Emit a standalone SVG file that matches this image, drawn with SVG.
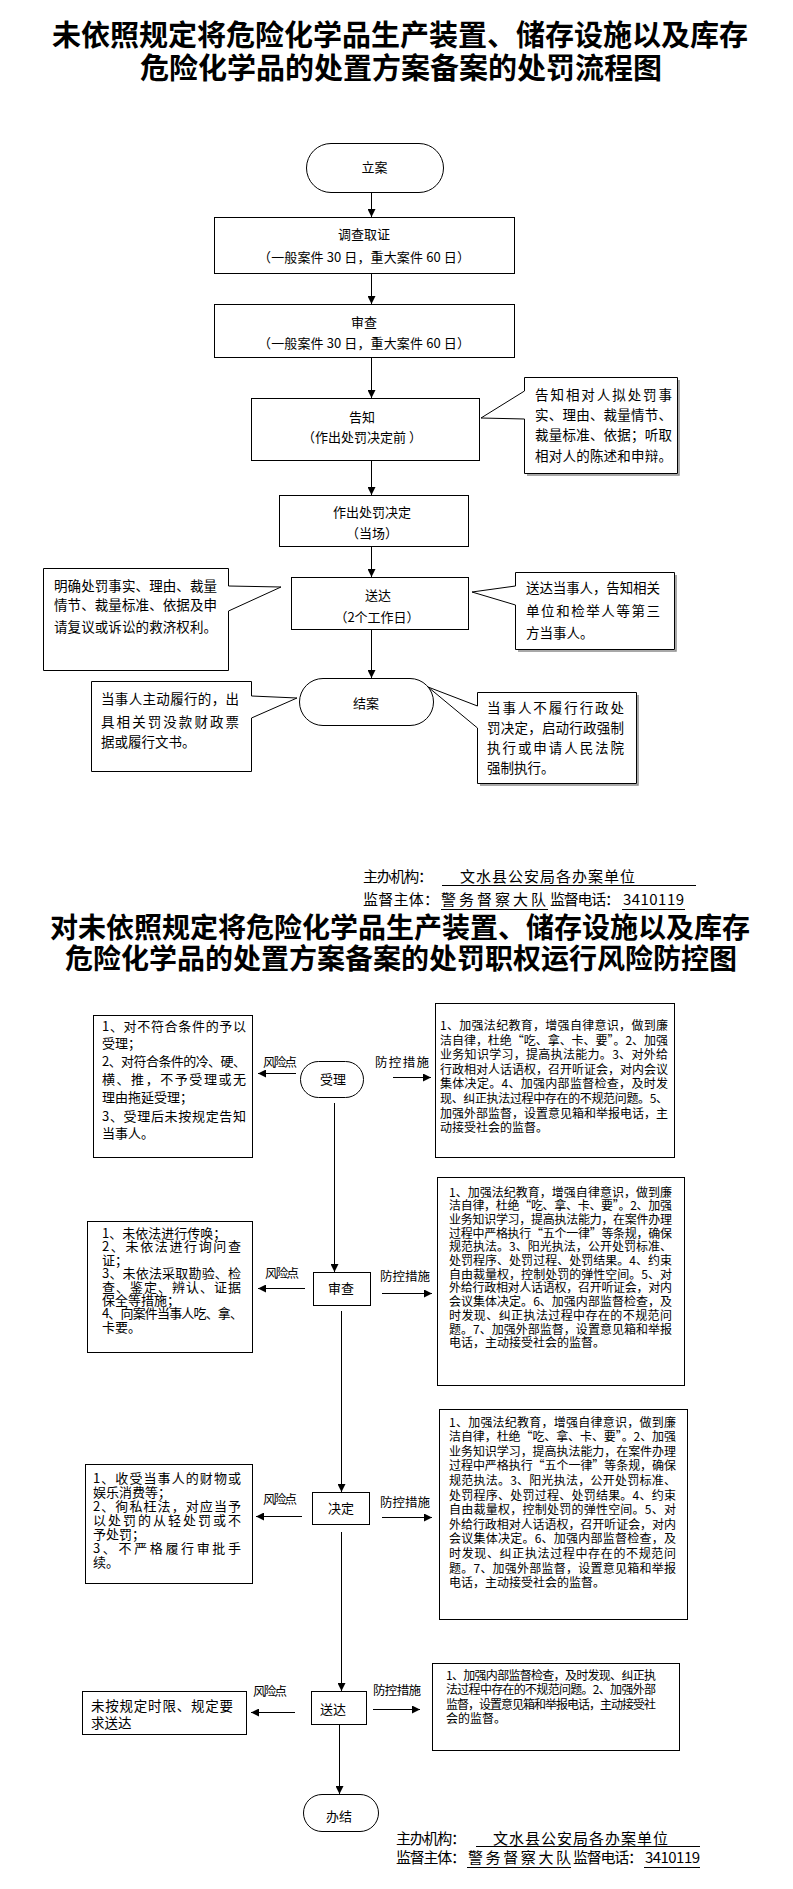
<svg xmlns="http://www.w3.org/2000/svg" width="793" height="1889" viewBox="0 0 793 1889">
<style>
text{font-family:"Noto Sans CJK SC","Liberation Sans",sans-serif;fill:#000}
.title{font-size:29px;font-weight:700;text-anchor:middle}
.title2{font-size:28px;font-weight:700;text-anchor:middle}
.n{font-size:13px;text-anchor:middle}
.c{font-size:13.5px}
.s{font-size:12px}
.l{font-size:13px}
.lbl{font-size:12.5px;text-anchor:middle}
.ft{font-size:15px}
.box{fill:#fff;stroke:#000;stroke-width:1}
.ln{fill:none;stroke:#000;stroke-width:1}
.ul{stroke:#000;stroke-width:1}
.sh{fill:none;stroke:#8c8c8c;stroke-width:1.5}
</style>
<defs>
<marker id="ah" markerWidth="8" markerHeight="8" refX="8" refY="4" orient="auto" markerUnits="userSpaceOnUse">
<path d="M0,0 L8,4 L0,8 Z" fill="#000"/>
</marker>
</defs>
<rect width="793" height="1889" fill="#fff"/>

<g id="title1">
<text class="title" x="400" y="46">未依照规定将危险化学品生产装置、储存设施以及库存</text>
<text class="title" x="401" y="79">危险化学品的处置方案备案的处罚流程图</text>
</g>

<g id="connectors1">
<path class="ln" d="M371.5,192 V217" marker-end="url(#ah)"/>
<path class="ln" d="M371.5,273 V304" marker-end="url(#ah)"/>
<path class="ln" d="M371.5,357 V398" marker-end="url(#ah)"/>
<path class="ln" d="M371.5,460 V495" marker-end="url(#ah)"/>
<path class="ln" d="M371.5,546 V577" marker-end="url(#ah)"/>
<path class="ln" d="M371.5,629 V678" marker-end="url(#ah)"/>
</g>

<g id="n-lian">
<rect class="box" x="306.5" y="143.5" width="137" height="49" rx="24.5"/>
<text class="n" x="374.5" y="172">立案</text>
</g>
<g id="n-diaocha">
<rect class="box" x="214.5" y="217.5" width="300" height="56"/>
<text class="n" x="364" y="239" font-size="13.5">调查取证</text>
<text class="n" x="364" y="262" textLength="212" lengthAdjust="spacing">（一般案件 30 日，重大案件 60 日）</text>
</g>
<g id="n-shencha">
<rect class="box" x="214.5" y="304.5" width="300" height="53"/>
<text class="n" x="364" y="327" font-size="13.5">审查</text>
<text class="n" x="364" y="348" textLength="212" lengthAdjust="spacing">（一般案件 30 日，重大案件 60 日）</text>
</g>
<g id="n-gaozhi">
<rect class="box" x="251.5" y="398.5" width="228" height="62"/>
<text class="n" x="362" y="422">告知</text>
<text class="n" x="362" y="442" textLength="120" lengthAdjust="spacing">（作出处罚决定前 ）</text>
</g>
<g id="c-gaozhi">
<path class="sh" d="M679,380 V475 H527"/>
<path class="box" d="M524.5,377.5 H677.5 V473.5 H524.5 V419 L481,418 L524.5,391 Z"/>
<text class="c" x="535" y="400" textLength="137" lengthAdjust="spacing">告知相对人拟处罚事</text>
<text class="c" x="535" y="420" textLength="137" lengthAdjust="spacing">实、理由、裁量情节、</text>
<text class="c" x="535" y="440" textLength="137" lengthAdjust="spacing">裁量标准、依据；听取</text>
<text class="c" x="535" y="461" textLength="137" lengthAdjust="spacing">相对人的陈述和申辩。</text>
</g>
<g id="n-jueding">
<rect class="box" x="279.5" y="495.5" width="189" height="51"/>
<text class="n" x="372" y="517" font-size="14">作出处罚决定</text>
<text class="n" x="372" y="538" font-size="14">（当场）</text>
</g>
<g id="n-songda">
<rect class="box" x="291.5" y="577.5" width="177" height="52"/>
<text class="n" x="378" y="600" font-size="14">送达</text>
<text class="n" x="377" y="622" font-size="14">（2个工作日）</text>
</g>
<g id="c-songda-l">
<path class="box" d="M43.5,568.5 H228.5 V586 L281,587 L228.5,611 V670.5 H43.5 Z"/>
<text class="c" x="54" y="591" textLength="163" lengthAdjust="spacing">明确处罚事实、理由、裁量</text>
<text class="c" x="54" y="610" textLength="163" lengthAdjust="spacing">情节、裁量标准、依据及申</text>
<text class="c" x="54" y="632" textLength="163" lengthAdjust="spacing">请复议或诉讼的救济权利。</text>
</g>
<g id="c-songda-r">
<path class="sh" d="M676,575 V651 H518"/>
<path class="box" d="M515.5,572.5 H674.5 V649.5 H515.5 V605 L472,592 L515.5,586 Z"/>
<text class="c" x="526" y="593" textLength="134" lengthAdjust="spacing">送达当事人，告知相关</text>
<text class="c" x="526" y="616" textLength="134" lengthAdjust="spacing">单位和检举人等第三</text>
<text class="c" x="526" y="638">方当事人。</text>
</g>
<g id="n-jiean">
<rect class="box" x="299.5" y="678.5" width="134" height="47" rx="23.5"/>
<text class="n" x="366" y="708">结案</text>
</g>
<g id="c-jiean-l">
<path class="box" d="M91.5,681.5 H251.5 V696 L297,698 L251.5,718 V771.5 H91.5 Z"/>
<text class="c" x="101" y="704" textLength="138" lengthAdjust="spacing">当事人主动履行的，出</text>
<text class="c" x="101" y="727" textLength="138" lengthAdjust="spacing">具相关罚没款财政票</text>
<text class="c" x="101" y="747">据或履行文书。</text>
</g>
<g id="c-jiean-r">
<path class="sh" d="M638,695 V785 H480"/>
<path class="box" d="M477.5,692.5 H636.5 V783.5 H477.5 V728 L428,687 L477.5,706 Z"/>
<text class="c" x="487" y="713" textLength="137" lengthAdjust="spacing">当事人不履行行政处</text>
<text class="c" x="487" y="733" textLength="137" lengthAdjust="spacing">罚决定，启动行政强制</text>
<text class="c" x="487" y="753" textLength="137" lengthAdjust="spacing">执行或申请人民法院</text>
<text class="c" x="487" y="773">强制执行。</text>
</g>

<g id="footer1">
<text class="ft" x="363" y="882" textLength="70" lengthAdjust="spacing">主办机构：</text>
<text class="ft" x="460" y="882" textLength="175" lengthAdjust="spacing">文水县公安局各办案单位</text>
<line class="ul" x1="442" y1="885.5" x2="696" y2="885.5"/>
<text class="ft" x="363" y="905" textLength="76" lengthAdjust="spacing">监督主体：</text>
<text class="ft" x="441" y="905" textLength="105" lengthAdjust="spacing">警务督察大队</text>
<line class="ul" x1="441" y1="909.5" x2="548" y2="909.5"/>
<text class="ft" x="550" y="905" textLength="70" lengthAdjust="spacing">监督电话：</text>
<text class="ft" x="623" y="905" textLength="61" lengthAdjust="spacing">3410119</text>
<line class="ul" x1="622" y1="909.5" x2="685" y2="909.5"/>
</g>

<g id="title2">
<text class="title2" x="400" y="938">对未依照规定将危险化学品生产装置、储存设施以及库存</text>
<text class="title2" x="401" y="969">危险化学品的处置方案备案的处罚职权运行风险防控图</text>
</g>

<g id="connectors2">
<path class="ln" d="M334.5,1103 V1272" marker-end="url(#ah)"/>
<path class="ln" d="M341.5,1311 V1492" marker-end="url(#ah)"/>
<path class="ln" d="M341.5,1532 V1691" marker-end="url(#ah)"/>
<path class="ln" d="M339.5,1724 V1794" marker-end="url(#ah)"/>
<path class="ln" d="M296,1073.5 H258" marker-end="url(#ah)"/>
<path class="ln" d="M393,1077.5 H431" marker-end="url(#ah)"/>
<path class="ln" d="M305,1288.5 H258" marker-end="url(#ah)"/>
<path class="ln" d="M382,1293.5 H432" marker-end="url(#ah)"/>
<path class="ln" d="M302,1516.5 H256" marker-end="url(#ah)"/>
<path class="ln" d="M382,1517.5 H432" marker-end="url(#ah)"/>
<path class="ln" d="M295,1712.5 H251" marker-end="url(#ah)"/>
<path class="ln" d="M373,1709.5 H420" marker-end="url(#ah)"/>
<text class="lbl" x="280" y="1067" textLength="34" lengthAdjust="spacing">风险点</text>
<text class="lbl" x="402" y="1067" textLength="54" lengthAdjust="spacing">防控措施</text>
<text class="lbl" x="282" y="1278" textLength="34" lengthAdjust="spacing">风险点</text>
<text class="lbl" x="405" y="1281" textLength="50" lengthAdjust="spacing">防控措施</text>
<text class="lbl" x="280" y="1504" textLength="34" lengthAdjust="spacing">风险点</text>
<text class="lbl" x="405" y="1507" textLength="50" lengthAdjust="spacing">防控措施</text>
<text class="lbl" x="270" y="1696" textLength="34" lengthAdjust="spacing">风险点</text>
<text class="lbl" x="397" y="1695" textLength="48" lengthAdjust="spacing">防控措施</text>
</g>

<g id="r-shouli">
<rect class="box" x="300.5" y="1061.5" width="63" height="36" rx="18"/>
<text class="n" x="333" y="1084" font-size="13.5">受理</text>
</g>
<g id="risk-shouli">
<rect class="box" x="93.5" y="1015.5" width="159" height="142"/>
<text class="l" x="102" y="1031" textLength="144" lengthAdjust="spacing">1、对不符合条件的予以</text>
<text class="l" x="102" y="1048">受理；</text>
<text class="l" x="102" y="1066" textLength="144" lengthAdjust="spacing">2、对符合条件的冷、硬、</text>
<text class="l" x="102" y="1084" textLength="144" lengthAdjust="spacing">横、推，不予受理或无</text>
<text class="l" x="102" y="1102">理由拖延受理；</text>
<text class="l" x="102" y="1121" textLength="144" lengthAdjust="spacing">3、受理后未按规定告知</text>
<text class="l" x="102" y="1138">当事人。</text>
</g>
<g id="prev-shouli">
<rect class="box" x="435.5" y="1003.5" width="239" height="154"/>
<text class="s" x="440" y="1030" textLength="228" lengthAdjust="spacing">1、加强法纪教育，增强自律意识，做到廉</text>
<text class="s" x="440" y="1044.6" textLength="228" lengthAdjust="spacing">洁自律，杜绝“吃、拿、卡、要”。2、加强</text>
<text class="s" x="440" y="1059.2" textLength="228" lengthAdjust="spacing">业务知识学习，提高执法能力。3、对外给</text>
<text class="s" x="440" y="1073.8" textLength="228" lengthAdjust="spacing">行政相对人话语权，召开听证会，对内会议</text>
<text class="s" x="440" y="1088.4" textLength="228" lengthAdjust="spacing">集体决定。4、加强内部监督检查，及时发</text>
<text class="s" x="440" y="1103" textLength="228" lengthAdjust="spacing">现、纠正执法过程中存在的不规范问题。5、</text>
<text class="s" x="440" y="1117.6" textLength="228" lengthAdjust="spacing">加强外部监督，设置意见箱和举报电话，主</text>
<text class="s" x="440" y="1132.2">动接受社会的监督。</text>
</g>

<g id="r-shencha">
<rect class="box" x="313.5" y="1272.5" width="57" height="33"/>
<text class="n" x="341" y="1293" font-size="14">审查</text>
</g>
<g id="risk-shencha">
<rect class="box" x="87.5" y="1221.5" width="165" height="131"/>
<text class="l" x="102" y="1238">1、未依法进行传唤；</text>
<text class="l" x="102" y="1251.4" textLength="139" lengthAdjust="spacing">2、未依法进行询问查</text>
<text class="l" x="102" y="1264.8">证；</text>
<text class="l" x="102" y="1278.2" textLength="139" lengthAdjust="spacing">3、未依法采取勘验、检</text>
<text class="l" x="102" y="1291.6" textLength="139" lengthAdjust="spacing">查、鉴定、辨认、证据</text>
<text class="l" x="102" y="1305">保全等措施；</text>
<text class="l" x="102" y="1318.4" textLength="141" lengthAdjust="spacing">4、向案件当事人吃、拿、</text>
<text class="l" x="102" y="1331.8">卡要。</text>
</g>
<g id="prev-shencha">
<rect class="box" x="437.5" y="1177.5" width="247" height="208"/>
<text class="s" x="449" y="1196.5" textLength="223" lengthAdjust="spacing">1、加强法纪教育，增强自律意识，做到廉</text>
<text class="s" x="449" y="1210.2" textLength="223" lengthAdjust="spacing">洁自律，杜绝“吃、拿、卡、要”。2、加强</text>
<text class="s" x="449" y="1223.9" textLength="223" lengthAdjust="spacing">业务知识学习，提高执法能力，在案件办理</text>
<text class="s" x="449" y="1237.6" textLength="223" lengthAdjust="spacing">过程中严格执行“五个一律”等条规，确保</text>
<text class="s" x="449" y="1251.3" textLength="223" lengthAdjust="spacing">规范执法。3、阳光执法，公开处罚标准、</text>
<text class="s" x="449" y="1265" textLength="223" lengthAdjust="spacing">处罚程序、处罚过程、处罚结果。4、约束</text>
<text class="s" x="449" y="1278.7" textLength="223" lengthAdjust="spacing">自由裁量权，控制处罚的弹性空间。5、对</text>
<text class="s" x="449" y="1292.4" textLength="223" lengthAdjust="spacing">外给行政相对人话语权，召开听证会，对内</text>
<text class="s" x="449" y="1306.1" textLength="223" lengthAdjust="spacing">会议集体决定。6、加强内部监督检查，及</text>
<text class="s" x="449" y="1319.8" textLength="223" lengthAdjust="spacing">时发现、纠正执法过程中存在的不规范问</text>
<text class="s" x="449" y="1333.5" textLength="223" lengthAdjust="spacing">题。7、加强外部监督，设置意见箱和举报</text>
<text class="s" x="449" y="1347.2">电话，主动接受社会的监督。</text>
</g>

<g id="r-jueding">
<rect class="box" x="312.5" y="1492.5" width="57" height="32"/>
<text class="n" x="341" y="1513" font-size="14">决定</text>
</g>
<g id="risk-jueding">
<rect class="box" x="85.5" y="1464.5" width="167" height="119"/>
<text class="l" x="93" y="1483" textLength="148" lengthAdjust="spacing">1、收受当事人的财物或</text>
<text class="l" x="93" y="1497">娱乐消费等；</text>
<text class="l" x="93" y="1511" textLength="148" lengthAdjust="spacing">2、徇私枉法，对应当予</text>
<text class="l" x="93" y="1525" textLength="148" lengthAdjust="spacing">以处罚的从轻处罚或不</text>
<text class="l" x="93" y="1539">予处罚；</text>
<text class="l" x="93" y="1553" textLength="148" lengthAdjust="spacing">3、不严格履行审批手</text>
<text class="l" x="93" y="1567">续。</text>
</g>
<g id="prev-jueding">
<rect class="box" x="439.5" y="1409.5" width="248" height="210"/>
<text class="s" x="449" y="1426.5" textLength="227" lengthAdjust="spacing">1、加强法纪教育，增强自律意识，做到廉</text>
<text class="s" x="449" y="1441.1" textLength="227" lengthAdjust="spacing">洁自律，杜绝“吃、拿、卡、要”。2、加强</text>
<text class="s" x="449" y="1455.7" textLength="227" lengthAdjust="spacing">业务知识学习，提高执法能力，在案件办理</text>
<text class="s" x="449" y="1470.3" textLength="227" lengthAdjust="spacing">过程中严格执行“五个一律”等条规，确保</text>
<text class="s" x="449" y="1484.9" textLength="227" lengthAdjust="spacing">规范执法。3、阳光执法，公开处罚标准、</text>
<text class="s" x="449" y="1499.5" textLength="227" lengthAdjust="spacing">处罚程序、处罚过程、处罚结果。4、约束</text>
<text class="s" x="449" y="1514.1" textLength="227" lengthAdjust="spacing">自由裁量权，控制处罚的弹性空间。5、对</text>
<text class="s" x="449" y="1528.7" textLength="227" lengthAdjust="spacing">外给行政相对人话语权，召开听证会，对内</text>
<text class="s" x="449" y="1543.3" textLength="227" lengthAdjust="spacing">会议集体决定。6、加强内部监督检查，及</text>
<text class="s" x="449" y="1557.9" textLength="227" lengthAdjust="spacing">时发现、纠正执法过程中存在的不规范问</text>
<text class="s" x="449" y="1572.5" textLength="227" lengthAdjust="spacing">题。7、加强外部监督，设置意见箱和举报</text>
<text class="s" x="449" y="1587.1">电话，主动接受社会的监督。</text>
</g>

<g id="r-songda">
<rect class="box" x="311.5" y="1691.5" width="55" height="33"/>
<text class="n" x="333" y="1714" font-size="14">送达</text>
</g>
<g id="risk-songda">
<rect class="box" x="82.5" y="1691.5" width="164" height="43"/>
<text class="c" x="91" y="1711" font-size="14.5" textLength="142" lengthAdjust="spacing">未按规定时限、规定要</text>
<text class="c" x="91" y="1728" font-size="14.5">求送达</text>
</g>
<g id="prev-songda">
<rect class="box" x="432.5" y="1663.5" width="247" height="87"/>
<text class="s" x="446" y="1679.5" textLength="210" lengthAdjust="spacing">1、加强内部监督检查，及时发现、纠正执</text>
<text class="s" x="446" y="1694" textLength="210" lengthAdjust="spacing">法过程中存在的不规范问题。2、加强外部</text>
<text class="s" x="446" y="1708.5" textLength="210" lengthAdjust="spacing">监督，设置意见箱和举报电话，主动接受社</text>
<text class="s" x="446" y="1723">会的监督。</text>
</g>

<g id="r-banjie">
<rect class="box" x="303.5" y="1794.5" width="75" height="37" rx="18.5"/>
<text class="n" x="339" y="1821">办结</text>
</g>

<g id="footer2">
<text class="ft" x="396" y="1844" textLength="70" lengthAdjust="spacing">主办机构：</text>
<text class="ft" x="493" y="1844" textLength="175" lengthAdjust="spacing">文水县公安局各办案单位</text>
<line class="ul" x1="476" y1="1846.5" x2="700" y2="1846.5"/>
<text class="ft" x="396" y="1863" textLength="70" lengthAdjust="spacing">监督主体：</text>
<text class="ft" x="468" y="1863" textLength="103" lengthAdjust="spacing">警务督察大队</text>
<line class="ul" x1="467" y1="1867.5" x2="571" y2="1867.5"/>
<text class="ft" x="573" y="1863" textLength="70" lengthAdjust="spacing">监督电话：</text>
<text class="ft" x="645" y="1863" textLength="55" lengthAdjust="spacing">3410119</text>
<line class="ul" x1="644" y1="1867.5" x2="700" y2="1867.5"/>
</g>
</svg>
